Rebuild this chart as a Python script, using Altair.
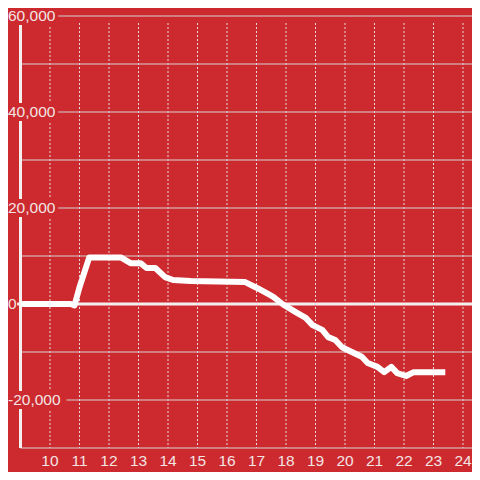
import altair as alt
import pandas as pd

# ---- data ----
hours = [9.0, 10.7, 10.83, 11.0, 11.33, 12.4, 12.73, 13.07, 13.27, 13.57, 13.9, 14.17,
         14.77, 16.6, 17.0, 17.3, 17.57, 17.9, 18.33, 18.67, 18.9, 19.23, 19.43, 19.67,
         19.9, 20.23, 20.57, 20.77, 21.1, 21.33, 21.57, 21.77, 22.07, 22.33, 23.4]
values = [0, 0, -300, 3500, 9700, 9700, 8500, 8500, 7500, 7500, 5600, 5000,
          4800, 4600, 3400, 2400, 1500, -100, -1700, -2900, -4400, -5400, -6900, -7500,
          -9000, -10000, -11000, -12300, -13100, -14200, -13100, -14400, -15000, -14200, -14200]

x_ticks = list(range(10, 25))
x_tick_text = [str(t) for t in x_ticks]
y_grid = [60000, 50000, 40000, 30000, 20000, 10000, -10000, -20000, -30000]
y_labels = [60000, 40000, 20000, 0, -20000]
y_label_text = ["60,000", "40,000", "20,000", "0", "-20,000"]

BG = "#CC2A2F"
TXT = "#F3E4E4"
FONT = "Liberation Sans"
FS = 15.5
W, H = 464, 440
X_DOM = [8.5763, 24.305]
Y_DOM = [-30000, 61667]

xs = alt.Scale(domain=X_DOM, nice=False, zero=False)
ys = alt.Scale(domain=Y_DOM, nice=False, zero=False)

line_df = pd.DataFrame({"t": hours, "v": values})
vgrid_df = pd.DataFrame({"t": x_ticks, "label": x_tick_text})
hgrid_df = pd.DataFrame({"v": y_grid})
lab_df = pd.DataFrame({"v": y_labels, "label": y_label_text})
lab_df["lo"] = lab_df["v"] - 1900
lab_df["hi"] = lab_df["v"] + 1900
lab_df["bw"] = lab_df["label"].str.len() * 8.2 + 1

hidden_x = alt.Axis(labels=False, domain=False, ticks=False, grid=False, title=None)

vgrid = alt.Chart(vgrid_df).mark_rule(color="#E6DADA", strokeWidth=1, strokeDash=[2, 2]).encode(
    x=alt.X("t:Q", scale=xs, axis=hidden_x),
    y=alt.value(15), y2=alt.value(H),
)

xlabels = alt.Chart(vgrid_df).mark_text(align="center", baseline="middle", fontSize=FS,
                                        font=FONT, color=TXT).encode(
    x=alt.X("t:Q", scale=xs, axis=hidden_x),
    y=alt.value(H + 13),
    text="label:N",
)

hgrid = alt.Chart(hgrid_df).mark_rule(color="#D8D0D0", strokeWidth=1).encode(
    y=alt.Y("v:Q", scale=ys, axis=None),
    x=alt.datum(9.0, scale=xs), x2=alt.value(W),
)

zero = alt.Chart(pd.DataFrame({"v": [0]})).mark_rule(color="#F4F0F0", strokeWidth=3).encode(
    y=alt.Y("v:Q", scale=ys, axis=None),
    x=alt.value(0), x2=alt.value(W),
)

yaxis_line = alt.Chart(pd.DataFrame({"t": [9.0]})).mark_rule(color="#F4F0F0", strokeWidth=3).encode(
    x=alt.X("t:Q", scale=xs, axis=hidden_x),
    y=alt.value(15), y2=alt.value(H),
)

line = alt.Chart(line_df).mark_line(color="white", strokeWidth=6, strokeJoin="round").encode(
    x=alt.X("t:Q", scale=xs, axis=hidden_x),
    y=alt.Y("v:Q", scale=ys, axis=None),
)

boxes = alt.Chart(lab_df).mark_rect(color=BG).encode(
    y=alt.Y("lo:Q", scale=ys, axis=None), y2="hi:Q",
    x=alt.X("zero_px:Q", scale=None), x2="bw:Q",
).transform_calculate(zero_px="0")

labels = alt.Chart(lab_df).mark_text(align="left", baseline="middle", fontSize=FS,
                                     font=FONT, color=TXT).encode(
    y=alt.Y("v:Q", scale=ys, axis=None),
    x=alt.value(0),
    text="label:N",
)

chart = alt.layer(vgrid, hgrid, zero, yaxis_line, line, boxes, labels, xlabels).properties(
    width=W, height=H,
    autosize=alt.AutoSizeParams(type="none"),
    padding={"left": 0, "top": 0, "right": 0, "bottom": 24},
    background=BG,
).configure_view(stroke=None)

chart.save("out.html", embed_options={"renderer": "svg", "actions": False})
